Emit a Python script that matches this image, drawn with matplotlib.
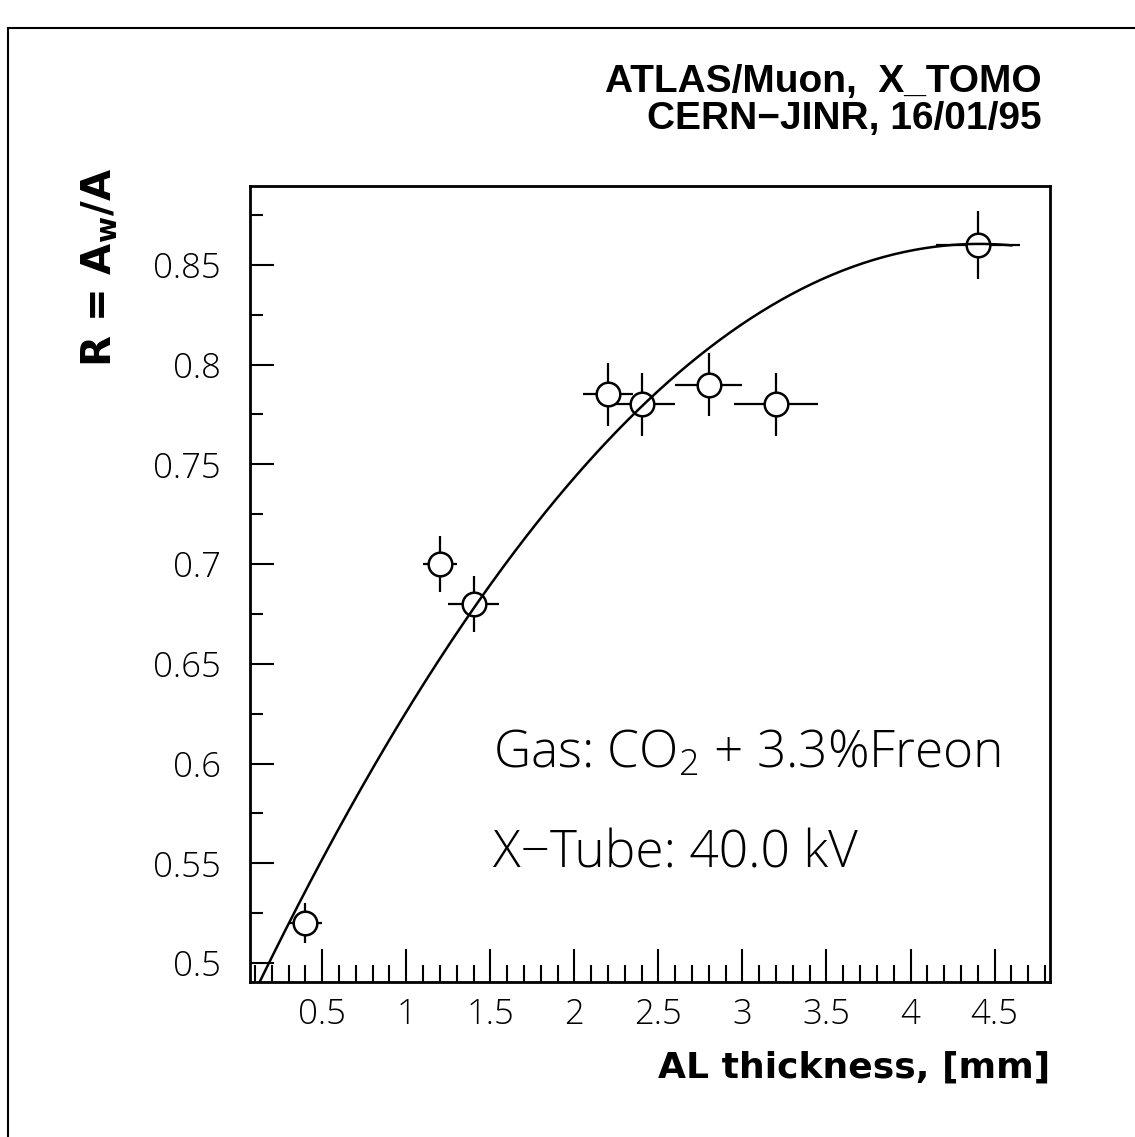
import numpy as np
import matplotlib
matplotlib.use("Agg")
import matplotlib.pyplot as plt
from matplotlib.lines import Line2D
from matplotlib.ticker import FixedLocator, MultipleLocator

plt.rcParams["mathtext.default"] = "regular"

# Measured points: Al absorber thickness vs. amplitude ratio
thickness = [0.4, 1.2, 1.4, 2.2, 2.4, 2.8, 3.2, 4.4]
ratio = [0.52, 0.70, 0.68, 0.785, 0.78, 0.79, 0.78, 0.86]
thickness_err = [0.10, 0.10, 0.15, 0.15, 0.20, 0.20, 0.25, 0.25]
ratio_err = [0.010, 0.014, 0.014, 0.016, 0.016, 0.016, 0.016, 0.017]

# Quadratic fit R = p0 + p1*t + p2*t^2 and the range it is drawn over
fit_coeffs = [0.4682, 0.1779, -0.02017]
fit_range = [0.05, 4.6]

x_ticks = [0.5, 1, 1.5, 2, 2.5, 3, 3.5, 4, 4.5]
x_tick_labels = ["0.5", "1", "1.5", "2", "2.5", "3", "3.5", "4", "4.5"]
y_ticks = [0.5, 0.55, 0.6, 0.65, 0.7, 0.75, 0.8, 0.85]
y_tick_labels = ["0.5", "0.55", "0.6", "0.65", "0.7", "0.75", "0.8", "0.85"]

W, H = 1135, 1137
fig = plt.figure(figsize=(W / 100, H / 100), dpi=100)
fig.patch.set_facecolor("white")

def fx(px):
    return px / W

def fy(py):
    return 1 - py / H

light = ["Open Sans", "DejaVu Sans"]
header_font = ["Liberation Sans", "DejaVu Sans"]

left, right, top, bottom = 250, 1050, 186, 982
ax = fig.add_axes([fx(left), fy(bottom), fx(right - left), fy(top) - fy(bottom)])
ax.set_xlim(0.07, 4.83)
ax.set_ylim(0.4905, 0.8895)

for s in ax.spines.values():
    s.set_linewidth(2.0)
    s.set_color("black")

ax.xaxis.set_major_locator(FixedLocator(x_ticks))
ax.xaxis.set_minor_locator(MultipleLocator(0.1))
ax.yaxis.set_major_locator(FixedLocator(y_ticks))
ax.yaxis.set_minor_locator(MultipleLocator(0.025))
ax.set_xticklabels(x_tick_labels)
ax.set_yticklabels(y_tick_labels)
ax.tick_params(axis="x", which="major", direction="in", length=24, width=1.5, pad=11,
               top=False, labelsize=25)
ax.tick_params(axis="x", which="minor", direction="in", length=12, width=1.5, top=False)
ax.tick_params(axis="y", which="major", direction="in", length=17, width=1.5, pad=21,
               right=False, labelsize=25)
ax.tick_params(axis="y", which="minor", direction="in", length=9, width=1.5, right=False)
for lab in ax.get_xticklabels() + ax.get_yticklabels():
    lab.set_family(light)
    lab.set_fontweight("light")

# data with error bars
ax.errorbar(thickness, ratio, xerr=thickness_err, yerr=ratio_err, fmt="o",
            color="black", ecolor="black", elinewidth=1.6, capsize=0,
            markersize=17, markerfacecolor="white", markeredgecolor="black",
            markeredgewidth=1.8, zorder=3)

# fitted curve
t = np.linspace(fit_range[0], fit_range[1], 300)
r = fit_coeffs[0] + fit_coeffs[1] * t + fit_coeffs[2] * t ** 2
ax.plot(t, r, color="black", linewidth=1.8, zorder=4)

# axis titles
fig.text(fx(1050), fy(1078), "AL thickness, [mm]", ha="right", va="baseline",
         fontsize=26, fontweight="bold", family="DejaVu Sans")
fig.text(fx(100), fy(168), r"R = A$_{\mathbf{w}}$/A", rotation=90, ha="center", va="top",
         fontsize=29, fontweight="bold", family="DejaVu Sans")

# header
fig.text(fx(1042), fy(92), "ATLAS/Muon,  X_TOMO", ha="right", va="baseline",
         fontsize=28, fontweight="bold", family=header_font)
fig.text(fx(1042), fy(129), "CERN\u2212JINR, 16/01/95", ha="right", va="baseline",
         fontsize=28, fontweight="bold", family=header_font)

# run conditions
fig.text(fx(493), fy(768), "Gas: CO$_2$ + 3.3%Freon", ha="left", va="baseline",
         fontsize=37, fontweight="light", family=light)
fig.text(fx(493), fy(868), "X\u2212Tube: 40.0 kV", ha="left", va="baseline",
         fontsize=37, fontweight="light", family=light)

# page frame
fig.add_artist(Line2D([fx(8), fx(8)], [0, fy(28)], color="black", linewidth=1.5))
fig.add_artist(Line2D([fx(8), 1], [fy(28), fy(28)], color="black", linewidth=1.5))

fig.savefig("out.png", dpi=100, facecolor="white")
